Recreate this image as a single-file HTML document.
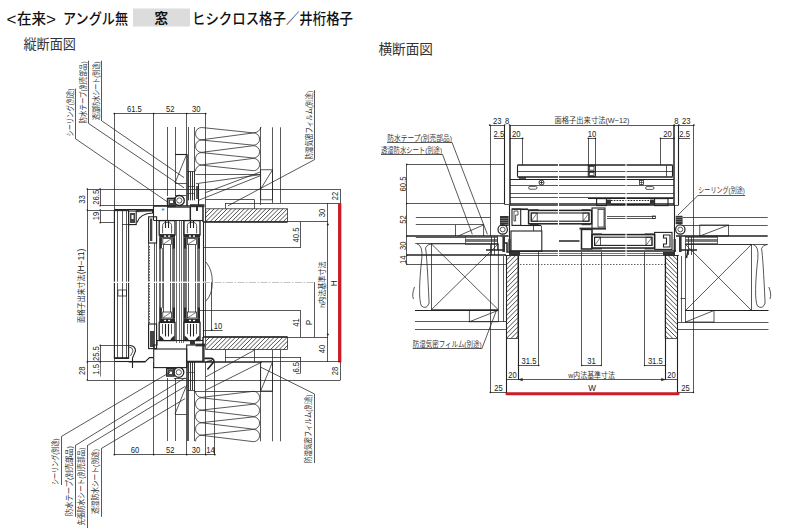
<!DOCTYPE html>
<html lang="ja">
<head>
<meta charset="utf-8">
<title>在来 アングル無 窓 ヒシクロス格子／井桁格子 納まり図</title>
<style>
html,body{margin:0;padding:0;background:#fff;}
body{width:800px;height:531px;overflow:hidden;font-family:"Liberation Sans","Noto Sans CJK JP",sans-serif;}
svg{display:block;}
svg text{font-family:"Liberation Sans","Noto Sans CJK JP",sans-serif;stroke:none;}
</style>
</head>
<body>
<svg width="800" height="531" viewBox="0 0 800 531" stroke="#222" fill="none" stroke-linecap="butt">
<rect x="0" y="0" width="800" height="531" fill="#fff" stroke="none"/>
<rect x="133" y="8.5" width="57" height="18" stroke="none" fill="#dcdcdc"/>
<text x="6.5" y="24.6" font-size="17" font-weight="500" fill="#111">&lt;</text>
<text x="17" y="24.2" font-size="14.8" textLength="29" lengthAdjust="spacingAndGlyphs" font-weight="500" fill="#111">在来</text>
<text x="46" y="24.6" font-size="17" font-weight="500" fill="#111">&gt;</text>
<text x="63" y="24.2" font-size="14.8" textLength="65" lengthAdjust="spacingAndGlyphs" font-weight="500" fill="#111">アングル無</text>
<text x="161.3" y="22.8" font-size="13.6" text-anchor="middle" font-weight="700" fill="#111">窓</text>
<text x="192" y="24.2" font-size="14.8" textLength="161" lengthAdjust="spacingAndGlyphs" font-weight="500" fill="#111">ヒシクロス格子／井桁格子</text>
<text x="23.5" y="48.6" font-size="13.6" textLength="52.5" lengthAdjust="spacingAndGlyphs" fill="#333">縦断面図</text>
<text x="378.5" y="53.6" font-size="13.6" textLength="54.5" lengthAdjust="spacingAndGlyphs" fill="#333">横断面図</text>
<line x1="114.4" y1="113.5" x2="205.6" y2="113.5" stroke-width="0.75"/>
<circle cx="114.4" cy="113.6" r="0.9" fill="#222" stroke="none"/>
<circle cx="153.7" cy="113.6" r="0.9" fill="#222" stroke="none"/>
<circle cx="186.7" cy="113.6" r="0.9" fill="#222" stroke="none"/>
<circle cx="205.6" cy="113.6" r="0.9" fill="#222" stroke="none"/>
<text x="134.4" y="112.1" font-size="8.2" text-anchor="middle" textLength="14.84" lengthAdjust="spacingAndGlyphs" fill="#222">61.5</text>
<text x="170.3" y="112.1" font-size="8.2" text-anchor="middle" textLength="8.48" lengthAdjust="spacingAndGlyphs" fill="#222">52</text>
<text x="196.2" y="112.1" font-size="8.2" text-anchor="middle" textLength="8.48" lengthAdjust="spacingAndGlyphs" fill="#222">30</text>
<line x1="114.5" y1="113.6" x2="114.5" y2="454.6" stroke-width="0.75"/>
<line x1="153.5" y1="113.6" x2="153.5" y2="207" stroke-width="0.75"/>
<line x1="153.5" y1="362" x2="153.5" y2="454.6" stroke-width="0.75"/>
<line x1="186.5" y1="113.6" x2="186.5" y2="154.3" stroke-width="0.75"/>
<line x1="187" y1="154.3" x2="187" y2="206" stroke-width="1.5"/>
<line x1="188.5" y1="127" x2="188.5" y2="172" stroke-width="0.75"/>
<line x1="205.5" y1="113.6" x2="205.5" y2="209" stroke-width="0.75"/>
<line x1="167.5" y1="127" x2="167.5" y2="196" stroke-width="0.75"/>
<line x1="175.5" y1="127" x2="175.5" y2="196" stroke-width="0.75"/>
<line x1="194.5" y1="127" x2="194.5" y2="171" stroke-width="0.75"/>
<line x1="175" y1="154.5" x2="186.7" y2="154.5" stroke-width="1.1"/>
<line x1="186.7" y1="154.3" x2="175" y2="183" stroke-width="0.75"/>
<line x1="175" y1="183.5" x2="186.7" y2="183.5" stroke-width="0.75"/>
<path d="M253.5 132.9 L201.6 127.5 A6.1 6.15 0 0 0 201.6 139.8 L253.5 132.9 A6.1 6.15 0 0 1 253.5 145.2 L201.6 140.05 A6.1 6.15 0 0 0 201.6 152.35 L253.5 145.7 A6.1 6.15 0 0 1 253.5 158 L201.6 152.6 A6.1 6.15 0 0 0 201.6 164.9 L253.5 158.4 A6.1 6.15 0 0 1 253.5 170.7 L201.6 165.15 A6.1 6.15 0 0 0 195.5 171.3" stroke-width="0.75" fill="none"/>
<path d="M253.5 132.9 Q259.5 132.4 261 126.9" stroke-width="0.75" fill="none"/>
<line x1="195.5" y1="174.5" x2="260.7" y2="174.5" stroke-width="0.75"/>
<line x1="194.5" y1="171" x2="194.5" y2="174.3" stroke-width="0.75"/>
<line x1="260.5" y1="127.3" x2="260.5" y2="205" stroke-width="0.75"/>
<line x1="272.5" y1="127.3" x2="272.5" y2="203" stroke-width="0.75"/>
<line x1="280.5" y1="127.3" x2="280.5" y2="203" stroke-width="0.75"/>
<rect x="260.7" y="169.8" width="11.8" height="30" stroke-width="0.75" fill="none"/>
<line x1="272.5" y1="169.8" x2="260.7" y2="189" stroke-width="0.75"/>
<line x1="188.5" y1="171.2" x2="188.5" y2="200.3" stroke-width="0.9"/>
<line x1="190.5" y1="171.2" x2="190.5" y2="200.3" stroke-width="0.9"/>
<line x1="192.5" y1="171.2" x2="192.5" y2="200.3" stroke-width="0.9"/>
<line x1="194.5" y1="171.2" x2="194.5" y2="200.3" stroke-width="0.9"/>
<line x1="187.5" y1="171.5" x2="195" y2="171.5" stroke-width="0.75"/>
<line x1="187.5" y1="186.5" x2="195" y2="186.5" stroke-width="0.6"/>
<line x1="187.5" y1="193.5" x2="195" y2="193.5" stroke-width="0.6"/>
<line x1="198.5" y1="184" x2="198.5" y2="206" stroke-width="1.1"/>
<line x1="197" y1="186" x2="197" y2="199" stroke-width="1.5"/>
<line x1="75.5" y1="88.6" x2="75.5" y2="138.6" stroke-width="0.75"/>
<line x1="75.3" y1="138.6" x2="168" y2="202.3" stroke-width="0.75"/>
<line x1="88.5" y1="60.7" x2="88.5" y2="123.8" stroke-width="0.75"/>
<line x1="89" y1="123.8" x2="184" y2="187.8" stroke-width="0.75"/>
<line x1="101.5" y1="60.7" x2="101.5" y2="121" stroke-width="0.75"/>
<line x1="102" y1="121" x2="184" y2="177.6" stroke-width="0.75"/>
<text x="72.6" y="136.6" font-size="8.1" transform="rotate(-90 72.6 136.6)" textLength="48" lengthAdjust="spacingAndGlyphs" fill="#333">シーリング(別途)</text>
<text x="85.8" y="123.4" font-size="8.1" transform="rotate(-90 85.8 123.4)" textLength="62" lengthAdjust="spacingAndGlyphs" fill="#333">防水テープ(別売部品)</text>
<text x="99" y="120" font-size="8.1" transform="rotate(-90 99 120)" textLength="58.5" lengthAdjust="spacingAndGlyphs" fill="#333">透湿防水シート(別途)</text>
<line x1="314.5" y1="90.2" x2="314.5" y2="159.6" stroke-width="0.75"/>
<line x1="314.6" y1="159.6" x2="228" y2="205.8" stroke-width="0.75"/>
<text x="311.8" y="159.4" font-size="8.1" transform="rotate(-90 311.8 159.4)" textLength="68.5" lengthAdjust="spacingAndGlyphs" fill="#333">防湿気密フィルム(別途)</text>
<line x1="196" y1="183.7" x2="260.7" y2="174.6" stroke-width="0.75"/>
<line x1="205.6" y1="192.6" x2="260.7" y2="171.8" stroke-width="0.75"/>
<line x1="198" y1="200.5" x2="260.7" y2="175.6" stroke-width="0.75"/>
<line x1="87.5" y1="189.1" x2="87.5" y2="380" stroke-width="0.75"/>
<line x1="100.5" y1="189.1" x2="100.5" y2="205.8" stroke-width="0.75"/>
<line x1="100.5" y1="210" x2="100.5" y2="222.7" stroke-width="0.75"/>
<line x1="87.3" y1="189.5" x2="340.4" y2="189.5" stroke-width="0.75"/>
<line x1="100.2" y1="205.5" x2="167.5" y2="205.5" stroke-width="0.75"/>
<line x1="87.3" y1="210.5" x2="114.4" y2="210.5" stroke-width="0.75"/>
<line x1="100.2" y1="222.5" x2="114.4" y2="222.5" stroke-width="0.75"/>
<circle cx="87.3" cy="189.1" r="0.8" fill="#222" stroke="none"/>
<circle cx="87.3" cy="210" r="0.8" fill="#222" stroke="none"/>
<circle cx="100.2" cy="189.1" r="0.8" fill="#222" stroke="none"/>
<circle cx="100.2" cy="205.8" r="0.8" fill="#222" stroke="none"/>
<circle cx="100.2" cy="210" r="0.8" fill="#222" stroke="none"/>
<circle cx="100.2" cy="222.7" r="0.8" fill="#222" stroke="none"/>
<text x="85" y="199.6" font-size="8.2" text-anchor="middle" transform="rotate(-90 85 199.6)" textLength="8.48" lengthAdjust="spacingAndGlyphs" fill="#222">33</text>
<text x="98.6" y="197.2" font-size="8.2" text-anchor="middle" transform="rotate(-90 98.6 197.2)" textLength="14.84" lengthAdjust="spacingAndGlyphs" fill="#222">26.5</text>
<text x="98.6" y="216" font-size="8.2" text-anchor="middle" transform="rotate(-90 98.6 216)" textLength="8.48" lengthAdjust="spacingAndGlyphs" fill="#222">19</text>
<text x="84.2" y="323" font-size="8.1" transform="rotate(-90 84.2 323)" textLength="48.5" lengthAdjust="spacingAndGlyphs" fill="#333">面格子出来寸法</text>
<text x="84.2" y="274.3" font-size="8.2" transform="rotate(-90 84.2 274.3)" textLength="25.6" lengthAdjust="spacingAndGlyphs" fill="#222">(H−11)</text>
<line x1="100.5" y1="345.3" x2="100.5" y2="361.9" stroke-width="0.75"/>
<line x1="100.5" y1="361.9" x2="100.5" y2="376.5" stroke-width="0.6"/>
<line x1="100.2" y1="345.5" x2="130" y2="345.5" stroke-width="0.75"/>
<line x1="87.3" y1="361.5" x2="114.4" y2="361.5" stroke-width="0.75"/>
<line x1="87.3" y1="380.5" x2="340.4" y2="380.5" stroke-width="0.75"/>
<circle cx="87.3" cy="361.9" r="0.8" fill="#222" stroke="none"/>
<circle cx="87.3" cy="380" r="0.8" fill="#222" stroke="none"/>
<circle cx="100.2" cy="345.3" r="0.8" fill="#222" stroke="none"/>
<circle cx="100.2" cy="361.9" r="0.8" fill="#222" stroke="none"/>
<text x="98.6" y="353.6" font-size="8.2" text-anchor="middle" transform="rotate(-90 98.6 353.6)" textLength="14.84" lengthAdjust="spacingAndGlyphs" fill="#222">25.5</text>
<text x="85" y="370.8" font-size="8.2" text-anchor="middle" transform="rotate(-90 85 370.8)" textLength="8.48" lengthAdjust="spacingAndGlyphs" fill="#222">28</text>
<text x="98.6" y="369.4" font-size="8.2" text-anchor="middle" transform="rotate(-90 98.6 369.4)" textLength="10.6" lengthAdjust="spacingAndGlyphs" fill="#222">1.5</text>
<rect x="114.4" y="210.6" width="14.2" height="147.7" stroke-width="1.1" fill="none"/>
<line x1="117.5" y1="211" x2="117.5" y2="358" stroke-width="0.75"/>
<line x1="122.5" y1="211" x2="122.5" y2="358" stroke-width="0.75"/>
<line x1="126.5" y1="211" x2="126.5" y2="358" stroke-width="0.75"/>
<line x1="114.4" y1="358" x2="128.6" y2="358" stroke-width="1.5"/>
<line x1="114.4" y1="361.5" x2="145" y2="361.5" stroke-width="1.1"/>
<rect x="117.9" y="290" width="8.5" height="6" stroke-width="0.75" fill="none"/>
<line x1="122.5" y1="290" x2="122.5" y2="296" stroke-width="0.75"/>
<line x1="114.4" y1="209.5" x2="153" y2="209.5" stroke-width="1.1"/>
<rect x="128.6" y="211" width="7.6" height="13.6" stroke-width="1.1" fill="none"/>
<rect x="130" y="213" width="5" height="10" stroke="none" fill="#444"/>
<rect x="131.5" y="215" width="2" height="4" stroke="none" fill="#fff"/>
<path d="M152.6 210.5 L152.6 213 Q140 213.5 137 222.5" stroke-width="1.1" fill="none"/>
<path d="M136.2 210 L153 209.4 L153 211.2 L136.2 212 Z" stroke-width="0.3" fill="#333"/>
<line x1="122" y1="224.5" x2="136.2" y2="224.5" stroke-width="0.75"/>
<path d="M130 345.5 Q135.5 346 135.5 351 L132.5 358 L132.5 368" stroke-width="1.1" fill="none"/>
<path d="M129 347 Q133 347.5 133 351 L130.5 356" stroke-width="0.75" fill="none"/>
<path d="M128.6 362 L145 362 L149.5 357.6 L153.7 357.6" stroke-width="1.1" fill="none"/>
<circle cx="179.3" cy="200.5" r="5" stroke-width="1.3" fill="none"/>
<circle cx="179.3" cy="200.5" r="2.6" stroke-width="0.75" fill="none"/>
<rect x="167.6" y="198.4" width="7.4" height="7.6" stroke-width="1.5" fill="none"/>
<rect x="168.6" y="199.4" width="5.7" height="6" stroke="none" fill="#444"/>
<rect x="170" y="200.6" width="3" height="2.4" stroke="none" fill="#fff"/>
<line x1="175" y1="195.5" x2="186.6" y2="195.5" stroke-width="0.75"/>
<line x1="153.7" y1="206" x2="190" y2="206" stroke-width="1.5"/>
<line x1="153.5" y1="206.3" x2="153.5" y2="220.5" stroke-width="1.1"/>
<rect x="167.5" y="207.3" width="22.5" height="13.2" stroke-width="0.75" fill="none"/>
<line x1="153.7" y1="220.5" x2="203" y2="220.5" stroke-width="1.1"/>
<rect x="190" y="204.2" width="14.5" height="3" stroke="none" fill="#333"/>
<rect x="196" y="207" width="2" height="4" stroke="none" fill="#333"/>
<line x1="190.5" y1="207" x2="190.5" y2="220.5" stroke-width="1.1"/>
<line x1="203" y1="207" x2="203" y2="222" stroke-width="1.5"/>
<line x1="205.5" y1="209" x2="205.5" y2="222" stroke-width="0.75"/>
<text x="163" y="210.8" font-size="3.6" text-anchor="middle" fill="#222">H</text>
<rect x="148.6" y="216.8" width="8" height="26.2" stroke-width="1.1" fill="none"/>
<rect x="150" y="218.5" width="2.3" height="22.5" stroke="none" fill="#444"/>
<line x1="154.5" y1="243" x2="154.5" y2="348" stroke-width="0.75"/>
<line x1="156.5" y1="243" x2="156.5" y2="348" stroke-width="0.75"/>
<line x1="148.5" y1="243" x2="148.5" y2="348.6" stroke-width="0.75"/>
<line x1="149.5" y1="246" x2="149.5" y2="324" stroke-width="1" stroke="#555" stroke-dasharray="1.6 1.2"/>
<rect x="148.6" y="324" width="8" height="24.6" stroke-width="1.1" fill="none"/>
<rect x="150" y="331" width="4.5" height="16" stroke="none" fill="#444"/>
<rect x="159.2" y="220.6" width="15.8" height="14.4" stroke-width="1.3" fill="none"/>
<path d="M162.6 233.3 L162.6 225.6 Q162.6 222.3 167.1 222.3 Q171.6 222.3 171.6 225.6 L171.6 233.3" stroke-width="0.75" fill="none"/>
<line x1="165.5" y1="220.6" x2="165.5" y2="228" stroke-width="1.1"/>
<line x1="168.5" y1="220.6" x2="168.5" y2="228" stroke-width="1.1"/>
<rect x="159.2" y="234.2" width="15.8" height="3.6" stroke="none" fill="#2a2a2a"/>
<rect x="164.1" y="235.4" width="2" height="1.4" stroke="none" fill="#fff"/>
<rect x="168.1" y="235.4" width="2" height="1.4" stroke="none" fill="#fff"/>
<rect x="159.2" y="237.8" width="2.7" height="10.7" stroke="none" fill="#2a2a2a"/>
<rect x="172.3" y="237.8" width="2.7" height="10.7" stroke="none" fill="#2a2a2a"/>
<rect x="162.8" y="238.6" width="8.6" height="6" stroke-width="0.75" fill="none"/>
<line x1="163.2" y1="244.2" x2="171" y2="239" stroke-width="0.6"/>
<line x1="160" y1="248" x2="160" y2="308" stroke-width="1.3"/>
<line x1="174" y1="248" x2="174" y2="308" stroke-width="1.3"/>
<line x1="163.5" y1="244.6" x2="163.5" y2="312" stroke-width="0.75"/>
<line x1="170.5" y1="244.6" x2="170.5" y2="312" stroke-width="0.75"/>
<line x1="162.5" y1="248" x2="162.5" y2="308" stroke-width="0.6"/>
<line x1="172.5" y1="248" x2="172.5" y2="308" stroke-width="0.6"/>
<rect x="159.2" y="307.6" width="2.7" height="11.2" stroke="none" fill="#2a2a2a"/>
<rect x="172.3" y="307.6" width="2.7" height="11.2" stroke="none" fill="#2a2a2a"/>
<rect x="162.8" y="312" width="8.6" height="6" stroke-width="0.75" fill="none"/>
<line x1="163.2" y1="317.6" x2="171" y2="312.4" stroke-width="0.6"/>
<rect x="159.2" y="318.6" width="15.8" height="3.8" stroke="none" fill="#2a2a2a"/>
<rect x="164.1" y="319.8" width="2" height="1.4" stroke="none" fill="#fff"/>
<rect x="168.1" y="319.8" width="2" height="1.4" stroke="none" fill="#fff"/>
<rect x="159.2" y="322.4" width="15.8" height="18.2" stroke-width="1.3" fill="none"/>
<line x1="165.5" y1="324" x2="165.5" y2="336.5" stroke-width="1.1"/>
<line x1="168.5" y1="324" x2="168.5" y2="336.5" stroke-width="1.1"/>
<line x1="162.5" y1="324" x2="162.5" y2="334" stroke-width="0.75"/>
<line x1="171.5" y1="324" x2="171.5" y2="334" stroke-width="0.75"/>
<path d="M159.8 340 L159.8 335.8 L162.6 338 L163.6 340 Z" stroke-width="0.3" fill="#2a2a2a"/>
<path d="M174.4 340 L174.4 335.8 L171.6 338 L170.6 340 Z" stroke-width="0.3" fill="#2a2a2a"/>
<rect x="184" y="220.6" width="16" height="14.4" stroke-width="1.3" fill="none"/>
<path d="M187.4 233.3 L187.4 225.6 Q187.4 222.3 192 222.3 Q196.6 222.3 196.6 225.6 L196.6 233.3" stroke-width="0.75" fill="none"/>
<line x1="190.5" y1="220.6" x2="190.5" y2="228" stroke-width="1.1"/>
<line x1="193.5" y1="220.6" x2="193.5" y2="228" stroke-width="1.1"/>
<rect x="184" y="234.2" width="16" height="3.6" stroke="none" fill="#2a2a2a"/>
<rect x="189" y="235.4" width="2" height="1.4" stroke="none" fill="#fff"/>
<rect x="193" y="235.4" width="2" height="1.4" stroke="none" fill="#fff"/>
<rect x="184" y="237.8" width="2.7" height="10.7" stroke="none" fill="#2a2a2a"/>
<rect x="197.3" y="237.8" width="2.7" height="10.7" stroke="none" fill="#2a2a2a"/>
<rect x="187.6" y="238.6" width="8.8" height="6" stroke-width="0.75" fill="none"/>
<line x1="188" y1="244.2" x2="196" y2="239" stroke-width="0.6"/>
<line x1="185" y1="248" x2="185" y2="308" stroke-width="1.3"/>
<line x1="199" y1="248" x2="199" y2="308" stroke-width="1.3"/>
<line x1="188.5" y1="244.6" x2="188.5" y2="312" stroke-width="0.75"/>
<line x1="195.5" y1="244.6" x2="195.5" y2="312" stroke-width="0.75"/>
<line x1="186.5" y1="248" x2="186.5" y2="308" stroke-width="0.6"/>
<line x1="197.5" y1="248" x2="197.5" y2="308" stroke-width="0.6"/>
<rect x="184" y="307.6" width="2.7" height="11.2" stroke="none" fill="#2a2a2a"/>
<rect x="197.3" y="307.6" width="2.7" height="11.2" stroke="none" fill="#2a2a2a"/>
<rect x="187.6" y="312" width="8.8" height="6" stroke-width="0.75" fill="none"/>
<line x1="188" y1="317.6" x2="196" y2="312.4" stroke-width="0.6"/>
<rect x="184" y="318.6" width="16" height="3.8" stroke="none" fill="#2a2a2a"/>
<rect x="189" y="319.8" width="2" height="1.4" stroke="none" fill="#fff"/>
<rect x="193" y="319.8" width="2" height="1.4" stroke="none" fill="#fff"/>
<rect x="184" y="322.4" width="16" height="18.2" stroke-width="1.3" fill="none"/>
<line x1="190.5" y1="324" x2="190.5" y2="336.5" stroke-width="1.1"/>
<line x1="193.5" y1="324" x2="193.5" y2="336.5" stroke-width="1.1"/>
<line x1="187.5" y1="324" x2="187.5" y2="334" stroke-width="0.75"/>
<line x1="196.5" y1="324" x2="196.5" y2="334" stroke-width="0.75"/>
<path d="M184.6 340 L184.6 335.8 L187.4 338 L188.4 340 Z" stroke-width="0.3" fill="#2a2a2a"/>
<path d="M199.4 340 L199.4 335.8 L196.6 338 L195.6 340 Z" stroke-width="0.3" fill="#2a2a2a"/>
<line x1="176.5" y1="220.5" x2="176.5" y2="343" stroke-width="0.65"/>
<line x1="179.5" y1="220.5" x2="179.5" y2="343" stroke-width="0.65"/>
<line x1="181.5" y1="220.5" x2="181.5" y2="343" stroke-width="0.65"/>
<line x1="183.5" y1="220.5" x2="183.5" y2="343" stroke-width="0.65"/>
<line x1="203.5" y1="222" x2="203.5" y2="337" stroke-width="1.1"/>
<line x1="205.5" y1="222" x2="205.5" y2="337" stroke-width="0.75"/>
<rect x="113" y="281.6" width="94" height="1.3" stroke="none" fill="#fff"/>
<path d="M206 262 Q212.5 270 212.3 282 Q212.5 294 206 301" stroke-width="0.75" fill="none"/>
<line x1="203" y1="282.5" x2="314" y2="282.5" stroke-width="0.6" stroke="#9a9a9a" stroke-dasharray="7 1.5 1.5 1.5"/>
<rect x="205.7" y="208.8" width="81.8" height="13" stroke-width="0.75" fill="none"/>
<path d="M210 208.8L205.7 213.1M214.3 208.8L205.7 217.4M218.6 208.8L205.7 221.7M222.9 208.8L209.9 221.8M227.2 208.8L214.2 221.8M231.5 208.8L218.5 221.8M235.8 208.8L222.8 221.8M240.1 208.8L227.1 221.8M244.4 208.8L231.4 221.8M248.7 208.8L235.7 221.8M253 208.8L240 221.8M257.3 208.8L244.3 221.8M261.6 208.8L248.6 221.8M265.9 208.8L252.9 221.8M270.2 208.8L257.2 221.8M274.5 208.8L261.5 221.8M278.8 208.8L265.8 221.8M283.1 208.8L270.1 221.8M287.4 208.8L274.4 221.8M287.5 213L278.7 221.8M287.5 217.3L283 221.8M287.5 221.6L287.3 221.8" stroke-width="0.8" fill="none"/>
<line x1="203" y1="222" x2="287.5" y2="222" stroke-width="1.5"/>
<line x1="287.5" y1="221.5" x2="328" y2="221.5" stroke-width="0.75"/>
<rect x="205.7" y="337" width="81.8" height="12.6" stroke-width="0.75" fill="none"/>
<path d="M210 337L205.7 341.3M214.3 337L205.7 345.6M218.6 337L206 349.6M222.9 337L210.3 349.6M227.2 337L214.6 349.6M231.5 337L218.9 349.6M235.8 337L223.2 349.6M240.1 337L227.5 349.6M244.4 337L231.8 349.6M248.7 337L236.1 349.6M253 337L240.4 349.6M257.3 337L244.7 349.6M261.6 337L249 349.6M265.9 337L253.3 349.6M270.2 337L257.6 349.6M274.5 337L261.9 349.6M278.8 337L266.2 349.6M283.1 337L270.5 349.6M287.4 337L274.8 349.6M287.5 341.2L279.1 349.6M287.5 345.5L283.4 349.6" stroke-width="0.8" fill="none"/>
<line x1="203" y1="337" x2="287.5" y2="337" stroke-width="1.5"/>
<line x1="287.5" y1="337.5" x2="328" y2="337.5" stroke-width="0.75"/>
<line x1="205.6" y1="199.5" x2="254.6" y2="199.5" stroke-width="0.75"/>
<line x1="225.4" y1="203.5" x2="340" y2="203.5" stroke-width="0.75"/>
<line x1="225.5" y1="203" x2="225.5" y2="208.8" stroke-width="0.75"/>
<line x1="254.5" y1="199.8" x2="254.5" y2="208.8" stroke-width="0.75"/>
<line x1="225.4" y1="357.5" x2="301" y2="357.5" stroke-width="0.75"/>
<line x1="225.5" y1="349.6" x2="225.5" y2="362" stroke-width="0.75"/>
<line x1="254.5" y1="349.6" x2="254.5" y2="362" stroke-width="0.75"/>
<line x1="340.5" y1="189.1" x2="340.5" y2="203" stroke-width="0.75"/>
<line x1="340.5" y1="362" x2="340.5" y2="380" stroke-width="0.75"/>
<line x1="339.7" y1="203" x2="339.7" y2="362.4" stroke="#cc1c26" stroke-width="3.3"/>
<text x="338.4" y="196" font-size="8.2" text-anchor="middle" transform="rotate(-90 338.4 196)" textLength="8.48" lengthAdjust="spacingAndGlyphs" fill="#222">22</text>
<text x="338.4" y="371" font-size="8.2" text-anchor="middle" transform="rotate(-90 338.4 371)" textLength="8.48" lengthAdjust="spacingAndGlyphs" fill="#222">28</text>
<line x1="327.5" y1="203" x2="327.5" y2="362" stroke-width="0.75"/>
<circle cx="327.8" cy="224.5" r="1" fill="#222" stroke="none"/>
<circle cx="327.8" cy="334.5" r="1" fill="#222" stroke="none"/>
<text x="325" y="213" font-size="8.2" text-anchor="middle" transform="rotate(-90 325 213)" textLength="8.48" lengthAdjust="spacingAndGlyphs" fill="#222">30</text>
<text x="325" y="349" font-size="8.2" text-anchor="middle" transform="rotate(-90 325 349)" textLength="8.48" lengthAdjust="spacingAndGlyphs" fill="#222">40</text>
<text x="325.2" y="284.6" font-size="8.1" text-anchor="middle" transform="rotate(-90 325.2 284.6)" textLength="46.5" lengthAdjust="spacingAndGlyphs" fill="#333">h内法基準寸法</text>
<text x="337" y="283.3" font-size="8.2" text-anchor="middle" transform="rotate(-90 337 283.3)" fill="#222">H</text>
<line x1="300.5" y1="221.8" x2="300.5" y2="247.6" stroke-width="0.75"/>
<line x1="203" y1="247.5" x2="300.8" y2="247.5" stroke-width="0.75"/>
<text x="298.6" y="235" font-size="8.2" text-anchor="middle" transform="rotate(-90 298.6 235)" textLength="14.84" lengthAdjust="spacingAndGlyphs" fill="#222">40.5</text>
<line x1="300.5" y1="310.5" x2="300.5" y2="337" stroke-width="0.75"/>
<line x1="200" y1="310.5" x2="300.8" y2="310.5" stroke-width="0.75"/>
<text x="298.6" y="322.5" font-size="8.2" text-anchor="middle" transform="rotate(-90 298.6 322.5)" textLength="8.48" lengthAdjust="spacingAndGlyphs" fill="#222">41</text>
<line x1="314.5" y1="282.2" x2="314.5" y2="337" stroke-width="0.75"/>
<text x="311.6" y="322.5" font-size="8.2" text-anchor="middle" transform="rotate(-90 311.6 322.5)" fill="#222">P</text>
<line x1="300.5" y1="357.3" x2="300.5" y2="373" stroke-width="0.75"/>
<line x1="296" y1="373.5" x2="300.8" y2="373.5" stroke-width="0.6"/>
<text x="298.6" y="367.3" font-size="8.2" text-anchor="middle" transform="rotate(-90 298.6 367.3)" textLength="10.6" lengthAdjust="spacingAndGlyphs" fill="#222">6.5</text>
<line x1="262" y1="361.5" x2="340.4" y2="361.5" stroke-width="0.75"/>
<text x="218" y="328.8" font-size="8.2" text-anchor="middle" textLength="8.48" lengthAdjust="spacingAndGlyphs" fill="#222">10</text>
<line x1="203.4" y1="330.5" x2="222.6" y2="330.5" stroke-width="0.75"/>
<line x1="211.5" y1="282.2" x2="211.5" y2="330.2" stroke-width="0.75"/>
<circle cx="211.8" cy="330.2" r="0.9" fill="#222" stroke="none"/>
<line x1="157" y1="340.5" x2="203" y2="340.5" stroke-width="1.1"/>
<rect x="153.7" y="349" width="33" height="18.6" stroke-width="1.1" fill="none"/>
<path d="M157 340.6 L157 345 L153.7 345 L153.7 349" stroke-width="1.1" fill="none"/>
<rect x="186.7" y="345" width="17.3" height="16.3" stroke-width="1.1" fill="none"/>
<rect x="195.5" y="343.6" width="9.5" height="2.8" stroke="none" fill="#333"/>
<rect x="190" y="340.6" width="5" height="4.2" stroke="none" fill="#333"/>
<line x1="203" y1="337" x2="203" y2="362" stroke-width="1.5"/>
<path d="M204.3 358.4 L211 358.4 Q214.6 359.2 213.8 361.8 L207.4 369.4" stroke-width="1.6" fill="none"/>
<path d="M206.5 361.6 L212 360.6" stroke-width="1.2" fill="none"/>
<circle cx="178.8" cy="372.3" r="5" stroke-width="1.3" fill="none"/>
<circle cx="178.8" cy="372.3" r="2.6" stroke-width="0.75" fill="none"/>
<rect x="166.8" y="368.2" width="7.2" height="7.8" stroke-width="1.5" fill="none"/>
<rect x="167.8" y="369.2" width="5.6" height="6.2" stroke="none" fill="#444"/>
<rect x="169.2" y="371.6" width="2.8" height="2.4" stroke="none" fill="#fff"/>
<line x1="174" y1="378.5" x2="186.6" y2="378.5" stroke-width="0.75"/>
<line x1="188.5" y1="362" x2="188.5" y2="390" stroke-width="0.9"/>
<line x1="190.5" y1="362" x2="190.5" y2="390" stroke-width="0.9"/>
<line x1="192.5" y1="362" x2="192.5" y2="390" stroke-width="0.9"/>
<line x1="194.5" y1="362" x2="194.5" y2="390" stroke-width="0.9"/>
<line x1="187.5" y1="390.5" x2="195" y2="390.5" stroke-width="0.75"/>
<line x1="187.5" y1="372.5" x2="195" y2="372.5" stroke-width="0.6"/>
<line x1="187.5" y1="380.5" x2="195" y2="380.5" stroke-width="0.6"/>
<line x1="186.7" y1="362" x2="262" y2="362" stroke-width="1.5"/>
<line x1="187" y1="362" x2="187" y2="441" stroke-width="1.5"/>
<line x1="188.5" y1="390" x2="188.5" y2="441" stroke-width="0.75"/>
<line x1="186.5" y1="441" x2="186.5" y2="454.6" stroke-width="0.75"/>
<line x1="167.5" y1="378" x2="167.5" y2="441" stroke-width="0.75"/>
<line x1="175.5" y1="378" x2="175.5" y2="441" stroke-width="0.75"/>
<line x1="194.5" y1="390" x2="194.5" y2="441" stroke-width="0.75"/>
<line x1="186.7" y1="385" x2="175" y2="414" stroke-width="0.75"/>
<line x1="175" y1="414.5" x2="186.7" y2="414.5" stroke-width="0.75"/>
<line x1="205.5" y1="362" x2="205.5" y2="454.6" stroke-width="0.75"/>
<line x1="214.5" y1="362" x2="214.5" y2="454.6" stroke-width="0.75"/>
<line x1="194.2" y1="391.5" x2="272.5" y2="391.5" stroke-width="0.75"/>
<path d="M195.5 391.05 A6.1 6.15 0 0 0 201.6 397.4 L253.5 391.3 A6.1 6.15 0 0 1 253.5 403.6 L201.6 397.8 A6.1 6.15 0 0 0 201.6 410.1 L253.5 404.2 A6.1 6.15 0 0 1 253.5 416.5 L201.6 410.3 A6.1 6.15 0 0 0 201.6 422.6 L253.5 416.9 A6.1 6.15 0 0 1 253.5 429.2 L201.6 422.8 A6.1 6.15 0 0 0 201.6 435.1 L253.5 429.4 A6.1 6.15 0 0 1 253.5 441.7 L201.6 435.3 A6.1 6.15 0 0 0 195.5 441.45" stroke-width="0.75" fill="none"/>
<line x1="260.5" y1="362" x2="260.5" y2="441.3" stroke-width="0.75"/>
<line x1="272.5" y1="350" x2="272.5" y2="441.3" stroke-width="0.75"/>
<line x1="280.5" y1="350" x2="280.5" y2="441.3" stroke-width="0.75"/>
<rect x="260.7" y="362" width="11.8" height="29" stroke-width="0.75" fill="none"/>
<line x1="272.5" y1="362" x2="260.7" y2="391" stroke-width="0.75"/>
<line x1="61.5" y1="436.3" x2="61.5" y2="485" stroke-width="0.75"/>
<line x1="61.7" y1="436.3" x2="170" y2="372.2" stroke-width="0.75"/>
<line x1="75.5" y1="445.4" x2="75.5" y2="516.8" stroke-width="0.75"/>
<line x1="75.5" y1="445.4" x2="185.1" y2="377.9" stroke-width="0.75"/>
<line x1="87.5" y1="445.7" x2="87.5" y2="528" stroke-width="0.75"/>
<line x1="87.1" y1="445.7" x2="185.1" y2="386.4" stroke-width="0.75"/>
<line x1="101.5" y1="448.6" x2="101.5" y2="516.8" stroke-width="0.75"/>
<line x1="101.2" y1="448.6" x2="185.1" y2="398.6" stroke-width="0.75"/>
<text x="57.8" y="485" font-size="8.1" transform="rotate(-90 57.8 485)" textLength="46.5" lengthAdjust="spacingAndGlyphs" fill="#333">シーリング(別途)</text>
<text x="71.6" y="516" font-size="8.1" transform="rotate(-90 71.6 516)" textLength="70" lengthAdjust="spacingAndGlyphs" fill="#333">防水テープ(別売部品)</text>
<text x="84" y="525.5" font-size="8.1" transform="rotate(-90 84 525.5)" textLength="78" lengthAdjust="spacingAndGlyphs" fill="#333">先張防水シート(別売部品)</text>
<text x="98" y="514" font-size="8.1" transform="rotate(-90 98 514)" textLength="65" lengthAdjust="spacingAndGlyphs" fill="#333">透湿防水シート(別途)</text>
<line x1="261" y1="367.3" x2="314" y2="393.7" stroke-width="0.75"/>
<line x1="314.5" y1="393.7" x2="314.5" y2="463" stroke-width="0.75"/>
<text x="311" y="463" font-size="8.1" transform="rotate(-90 311 463)" textLength="68.5" lengthAdjust="spacingAndGlyphs" fill="#333">防湿気密フィルム(別途)</text>
<line x1="206" y1="376.8" x2="254.7" y2="350" stroke-width="0.75"/>
<line x1="206" y1="390" x2="260.7" y2="362.6" stroke-width="0.75"/>
<line x1="114.4" y1="454.5" x2="215" y2="454.5" stroke-width="0.75"/>
<circle cx="114.4" cy="454.6" r="0.9" fill="#222" stroke="none"/>
<circle cx="153.7" cy="454.6" r="0.9" fill="#222" stroke="none"/>
<circle cx="186.7" cy="454.6" r="0.9" fill="#222" stroke="none"/>
<circle cx="205.7" cy="454.6" r="0.9" fill="#222" stroke="none"/>
<circle cx="214.8" cy="454.6" r="0.9" fill="#222" stroke="none"/>
<line x1="214.5" y1="448" x2="214.5" y2="454.6" stroke-width="0.75"/>
<text x="134.9" y="452.6" font-size="8.2" text-anchor="middle" textLength="8.48" lengthAdjust="spacingAndGlyphs" fill="#222">60</text>
<text x="170.3" y="452.6" font-size="8.2" text-anchor="middle" textLength="8.48" lengthAdjust="spacingAndGlyphs" fill="#222">52</text>
<text x="196" y="452.6" font-size="8.2" text-anchor="middle" textLength="8.48" lengthAdjust="spacingAndGlyphs" fill="#222">30</text>
<text x="210.4" y="452.6" font-size="8.2" text-anchor="middle" textLength="8.48" lengthAdjust="spacingAndGlyphs" fill="#222">14</text>
<line x1="489.8" y1="125.5" x2="693.9" y2="125.5" stroke-width="0.75"/>
<circle cx="489.8" cy="125.1" r="0.9" fill="#222" stroke="none"/>
<circle cx="504.9" cy="125.1" r="0.9" fill="#222" stroke="none"/>
<circle cx="509.4" cy="125.1" r="0.9" fill="#222" stroke="none"/>
<circle cx="674.2" cy="125.1" r="0.9" fill="#222" stroke="none"/>
<circle cx="678.8" cy="125.1" r="0.9" fill="#222" stroke="none"/>
<circle cx="693.9" cy="125.1" r="0.9" fill="#222" stroke="none"/>
<text x="497.3" y="123.6" font-size="8.2" text-anchor="middle" textLength="8.48" lengthAdjust="spacingAndGlyphs" fill="#222">23</text>
<text x="507.2" y="123.6" font-size="8.2" text-anchor="middle" textLength="4.24" lengthAdjust="spacingAndGlyphs" fill="#222">8</text>
<text x="676.4" y="123.6" font-size="8.2" text-anchor="middle" textLength="4.24" lengthAdjust="spacingAndGlyphs" fill="#222">8</text>
<text x="686.2" y="123.6" font-size="8.2" text-anchor="middle" textLength="8.48" lengthAdjust="spacingAndGlyphs" fill="#222">23</text>
<text x="592" y="123.2" font-size="7.9" text-anchor="middle" textLength="75" lengthAdjust="spacingAndGlyphs" fill="#333">面格子出来寸法(W−12)</text>
<text x="498.9" y="137" font-size="8.2" text-anchor="middle" textLength="10.6" lengthAdjust="spacingAndGlyphs" fill="#222">2.5</text>
<line x1="494" y1="138.5" x2="504.9" y2="138.5" stroke-width="0.75"/>
<text x="516.2" y="137" font-size="8.2" text-anchor="middle" textLength="8.48" lengthAdjust="spacingAndGlyphs" fill="#222">20</text>
<line x1="509.4" y1="138.5" x2="522.7" y2="138.5" stroke-width="0.75"/>
<line x1="522.5" y1="138.4" x2="522.5" y2="165.3" stroke-width="0.75"/>
<text x="592" y="137" font-size="8.2" text-anchor="middle" textLength="8.48" lengthAdjust="spacingAndGlyphs" fill="#222">10</text>
<line x1="588.3" y1="138.5" x2="595.4" y2="138.5" stroke-width="0.75"/>
<line x1="588.5" y1="138.4" x2="588.5" y2="165.3" stroke-width="0.75"/>
<line x1="595.5" y1="138.4" x2="595.5" y2="165.3" stroke-width="0.75"/>
<text x="667.6" y="137" font-size="8.2" text-anchor="middle" textLength="8.48" lengthAdjust="spacingAndGlyphs" fill="#222">20</text>
<line x1="660.5" y1="138.5" x2="674.2" y2="138.5" stroke-width="0.75"/>
<line x1="660.5" y1="138.4" x2="660.5" y2="165.3" stroke-width="0.75"/>
<text x="684.6" y="137" font-size="8.2" text-anchor="middle" textLength="10.6" lengthAdjust="spacingAndGlyphs" fill="#222">2.5</text>
<line x1="678.8" y1="138.5" x2="690" y2="138.5" stroke-width="0.75"/>
<circle cx="504.9" cy="138.4" r="0.8" fill="#222" stroke="none"/>
<circle cx="509.4" cy="138.4" r="0.8" fill="#222" stroke="none"/>
<circle cx="522.7" cy="138.4" r="0.8" fill="#222" stroke="none"/>
<circle cx="588.3" cy="138.4" r="0.8" fill="#222" stroke="none"/>
<circle cx="595.4" cy="138.4" r="0.8" fill="#222" stroke="none"/>
<circle cx="660.5" cy="138.4" r="0.8" fill="#222" stroke="none"/>
<circle cx="674.2" cy="138.4" r="0.8" fill="#222" stroke="none"/>
<circle cx="678.8" cy="138.4" r="0.8" fill="#222" stroke="none"/>
<line x1="490.5" y1="125.1" x2="490.5" y2="392.4" stroke-width="0.75"/>
<line x1="693.5" y1="125.1" x2="693.5" y2="392.4" stroke-width="0.75"/>
<line x1="406.5" y1="164.4" x2="406.5" y2="264.4" stroke-width="0.75"/>
<line x1="406.8" y1="164.5" x2="509.4" y2="164.5" stroke-width="0.75"/>
<line x1="406.8" y1="203.5" x2="510" y2="203.5" stroke-width="0.75"/>
<line x1="406.8" y1="236" x2="508.5" y2="236" stroke-width="1.5"/>
<line x1="406.8" y1="255" x2="506" y2="255" stroke-width="1.5"/>
<line x1="406.8" y1="264.5" x2="506" y2="264.5" stroke-width="0.75"/>
<circle cx="406.8" cy="164.4" r="0.8" fill="#222" stroke="none"/>
<circle cx="406.8" cy="203.6" r="0.8" fill="#222" stroke="none"/>
<circle cx="406.8" cy="236.2" r="0.8" fill="#222" stroke="none"/>
<circle cx="406.8" cy="255.4" r="0.8" fill="#222" stroke="none"/>
<circle cx="406.8" cy="264.2" r="0.8" fill="#222" stroke="none"/>
<text x="405.6" y="184" font-size="8.2" text-anchor="middle" transform="rotate(-90 405.6 184)" textLength="14.84" lengthAdjust="spacingAndGlyphs" fill="#222">60.5</text>
<text x="405.6" y="219.6" font-size="8.2" text-anchor="middle" transform="rotate(-90 405.6 219.6)" textLength="8.48" lengthAdjust="spacingAndGlyphs" fill="#222">52</text>
<text x="405.6" y="245.8" font-size="8.2" text-anchor="middle" transform="rotate(-90 405.6 245.8)" textLength="8.48" lengthAdjust="spacingAndGlyphs" fill="#222">30</text>
<text x="405.6" y="259.8" font-size="8.2" text-anchor="middle" transform="rotate(-90 405.6 259.8)" textLength="8.48" lengthAdjust="spacingAndGlyphs" fill="#222">14</text>
<rect x="504.9" y="125.1" width="4.9" height="79.5" stroke="none" fill="#fff"/>
<line x1="504.5" y1="125.1" x2="504.5" y2="204.6" stroke-width="1.1"/>
<line x1="510" y1="125.1" x2="510" y2="204.6" stroke-width="1.5"/>
<line x1="674" y1="125.1" x2="674" y2="205" stroke-width="1.5"/>
<line x1="678.5" y1="125.1" x2="678.5" y2="205" stroke-width="1.1"/>
<line x1="504.9" y1="204.5" x2="510" y2="204.5" stroke-width="0.75"/>
<line x1="674" y1="205.5" x2="678.8" y2="205.5" stroke-width="0.75"/>
<line x1="517.4" y1="165" x2="672.7" y2="165" stroke-width="1.5"/>
<line x1="517.4" y1="171.5" x2="672.7" y2="171.5" stroke-width="0.75"/>
<line x1="517.4" y1="177" x2="672.7" y2="177" stroke-width="1.5"/>
<line x1="517.5" y1="165.3" x2="517.5" y2="176.6" stroke-width="1.1"/>
<line x1="672.5" y1="165.3" x2="672.5" y2="176.6" stroke-width="1.1"/>
<line x1="666.5" y1="165.3" x2="666.5" y2="176.6" stroke-width="0.75"/>
<line x1="510" y1="179.5" x2="674" y2="179.5" stroke-width="1.1"/>
<line x1="510" y1="185.5" x2="674" y2="185.5" stroke-width="0.75"/>
<line x1="510" y1="193.5" x2="674" y2="193.5" stroke-width="0.75"/>
<line x1="510" y1="197.5" x2="674" y2="197.5" stroke-width="0.75"/>
<line x1="510" y1="204" x2="674" y2="204" stroke-width="1.5"/>
<line x1="510" y1="205.5" x2="674" y2="205.5" stroke-width="0.75"/>
<rect x="588.3" y="165.3" width="7.1" height="11.3" stroke-width="1.1" fill="none"/>
<line x1="588.3" y1="171.5" x2="595.4" y2="171.5" stroke-width="1.1"/>
<rect x="589.6" y="166.6" width="4.4" height="3.6" stroke-width="0.75" fill="none"/>
<rect x="589.6" y="172.4" width="4.4" height="3.2" stroke-width="0.75" fill="none"/>
<circle cx="541.5" cy="182.6" r="2.5" stroke-width="0.9" fill="none"/>
<line x1="539.6" y1="182.5" x2="543.4" y2="182.5" stroke-width="0.8"/>
<line x1="541.5" y1="180.7" x2="541.5" y2="184.5" stroke-width="0.8"/>
<path d="M530 186.4 h5.6 a1.4 1.4 0 0 1 0 2.8 h-5.6 a1.4 1.4 0 0 1 0 -2.8 Z" stroke-width="0.75" fill="none"/>
<rect x="639.4" y="180.6" width="4.2" height="4" stroke-width="0.75" fill="none"/>
<line x1="639.4" y1="182.5" x2="643.6" y2="182.5" stroke-width="0.6"/>
<line x1="641.5" y1="180.6" x2="641.5" y2="184.6" stroke-width="0.6"/>
<path d="M647 186.6 h5.6 a1.4 1.4 0 0 1 0 2.8 h-5.6 a1.4 1.4 0 0 1 0 -2.8 Z" stroke-width="0.75" fill="none"/>
<line x1="519" y1="178" x2="526" y2="178" stroke-width="1.5"/>
<rect x="596.6" y="198.6" width="9.8" height="7" stroke-width="1.1" fill="none"/>
<rect x="654.6" y="198.6" width="13.4" height="7" stroke-width="1.1" fill="none"/>
<rect x="606.4" y="199.6" width="4.6" height="5" stroke="none" fill="#333"/>
<rect x="650" y="199.6" width="4.6" height="5" stroke="none" fill="#333"/>
<line x1="611" y1="200.5" x2="650" y2="200.5" stroke-width="1.1" stroke-dasharray="1.6 1.2"/>
<line x1="611" y1="204.5" x2="650" y2="204.5" stroke-width="1.1"/>
<line x1="588" y1="198.5" x2="673" y2="198.5" stroke-width="1.1"/>
<rect x="528.6" y="210.4" width="63" height="13.4" stroke-width="1.5" fill="none"/>
<rect x="531.2" y="213" width="57.8" height="8.2" stroke-width="1.1" fill="none"/>
<rect x="531.2" y="213" width="6" height="8.2" stroke-width="0.75" fill="none"/>
<line x1="531.2" y1="221.2" x2="537.2" y2="213" stroke-width="0.6"/>
<rect x="583" y="213" width="6" height="8.2" stroke-width="0.75" fill="none"/>
<line x1="583" y1="221.2" x2="589" y2="213" stroke-width="0.6"/>
<rect x="529.6" y="209.2" width="9" height="1.2" stroke="none" fill="#333"/>
<rect x="581.6" y="209.2" width="9" height="1.2" stroke="none" fill="#333"/>
<rect x="529.6" y="223.8" width="9" height="1.4" stroke="none" fill="#333"/>
<rect x="581.6" y="223.8" width="9" height="1.4" stroke="none" fill="#333"/>
<rect x="592" y="234.6" width="62.6" height="13.4" stroke-width="1.5" fill="none"/>
<rect x="594.6" y="237.2" width="57.4" height="8.2" stroke-width="1.1" fill="none"/>
<rect x="594.6" y="237.2" width="6" height="8.2" stroke-width="0.75" fill="none"/>
<line x1="594.6" y1="245.4" x2="600.6" y2="237.2" stroke-width="0.6"/>
<rect x="646" y="237.2" width="6" height="8.2" stroke-width="0.75" fill="none"/>
<line x1="646" y1="245.4" x2="652" y2="237.2" stroke-width="0.6"/>
<rect x="593" y="233.4" width="9" height="1.2" stroke="none" fill="#333"/>
<rect x="644.6" y="233.4" width="9" height="1.2" stroke="none" fill="#333"/>
<rect x="593" y="248" width="9" height="1.4" stroke="none" fill="#333"/>
<rect x="644.6" y="248" width="9" height="1.4" stroke="none" fill="#333"/>
<rect x="512" y="209" width="8.7" height="16.4" stroke-width="1.1" fill="none"/>
<path d="M514 211 h4 v4 h-2.4 v6 h-1.6 Z" stroke-width="0.75" fill="none"/>
<rect x="512" y="208.4" width="16" height="1.6" stroke="none" fill="#333"/>
<line x1="520.7" y1="209.5" x2="528.6" y2="209.5" stroke-width="1.1"/>
<line x1="520.7" y1="225.5" x2="541" y2="225.5" stroke-width="1.1"/>
<rect x="511" y="231" width="30.8" height="20.3" stroke-width="1.1" fill="none"/>
<line x1="533.5" y1="225.6" x2="533.5" y2="231" stroke-width="0.75"/>
<line x1="541.5" y1="225.6" x2="541.5" y2="231" stroke-width="0.75"/>
<rect x="500" y="216" width="8.6" height="10" stroke="none" fill="#333"/>
<line x1="500.5" y1="218.5" x2="508" y2="218.5" stroke-width="0.5" stroke="#aaa"/>
<line x1="500.5" y1="220.5" x2="508" y2="220.5" stroke-width="0.5" stroke="#aaa"/>
<line x1="500.5" y1="222.5" x2="508" y2="222.5" stroke-width="0.5" stroke="#aaa"/>
<line x1="500.5" y1="224.5" x2="508" y2="224.5" stroke-width="0.5" stroke="#aaa"/>
<circle cx="502.7" cy="229.5" r="4.7" stroke-width="1.2" fill="none"/>
<circle cx="502.7" cy="229.5" r="2.4" stroke-width="0.75" fill="none"/>
<line x1="509.5" y1="205" x2="509.5" y2="252" stroke-width="1.1"/>
<rect x="508.4" y="239" width="2.2" height="12" stroke="none" fill="#333"/>
<rect x="592" y="208" width="13" height="20.6" stroke-width="1.1" fill="none"/>
<rect x="581.5" y="229.4" width="10.5" height="19.6" stroke-width="1.5" fill="none"/>
<rect x="598" y="209.5" width="6" height="17.5" stroke-width="0.75" fill="none"/>
<rect x="579.5" y="227.6" width="26.5" height="2" stroke="none" fill="#333"/>
<line x1="559" y1="240.5" x2="579.5" y2="240.5" stroke-width="0.75"/>
<line x1="559" y1="241.5" x2="579.5" y2="241.5" stroke-width="0.75"/>
<line x1="607" y1="216.5" x2="655.4" y2="216.5" stroke-width="0.75"/>
<line x1="607" y1="218.5" x2="655.4" y2="218.5" stroke-width="0.75"/>
<rect x="652.6" y="216" width="2.8" height="2.6" stroke-width="0.75" fill="none"/>
<rect x="654.6" y="232.4" width="17.4" height="17" stroke-width="1.1" fill="none"/>
<path d="M663.5 235 h6.5 v12 h-6.5 v-3 h3 v-6 h-3 Z" stroke-width="1.1" fill="none"/>
<line x1="674.5" y1="205" x2="674.5" y2="252" stroke-width="1.1"/>
<rect x="673.6" y="239" width="2.2" height="12" stroke="none" fill="#333"/>
<rect x="675.7" y="215.8" width="6.9" height="8.4" stroke="none" fill="#333"/>
<line x1="676" y1="217.5" x2="682.3" y2="217.5" stroke-width="0.5" stroke="#aaa"/>
<line x1="676" y1="219.5" x2="682.3" y2="219.5" stroke-width="0.5" stroke="#aaa"/>
<line x1="676" y1="221.5" x2="682.3" y2="221.5" stroke-width="0.5" stroke="#aaa"/>
<circle cx="680.3" cy="229.5" r="4.7" stroke-width="1.2" fill="none"/>
<circle cx="680.3" cy="229.5" r="2.4" stroke-width="0.75" fill="none"/>
<line x1="509" y1="251" x2="676" y2="251" stroke-width="1.5"/>
<line x1="520" y1="253.5" x2="665" y2="253.5" stroke-width="0.6"/>
<line x1="505" y1="255.5" x2="679" y2="255.5" stroke-width="0.75"/>
<line x1="520" y1="264.5" x2="665" y2="264.5" stroke-width="0.7" stroke-dasharray="1.5 1.5"/>
<rect x="557.9" y="160" width="1.1" height="102" stroke="none" fill="#fff"/>
<rect x="625.5" y="160" width="1.1" height="102" stroke="none" fill="#fff"/>
<rect x="506.4" y="255.6" width="11.5" height="82.8" stroke-width="0.75" fill="none"/>
<path d="M511 255.6L506.4 260.2M515.6 255.6L506.4 264.8M517.9 257.9L506.4 269.4M517.9 262.5L506.4 274M517.9 267.1L506.4 278.6M517.9 271.7L506.4 283.2M517.9 276.3L506.4 287.8M517.9 280.9L506.4 292.4M517.9 285.5L506.4 297M517.9 290.1L506.4 301.6M517.9 294.7L506.4 306.2M517.9 299.3L506.4 310.8M517.9 303.9L506.4 315.4M517.9 308.5L506.4 320M517.9 313.1L506.4 324.6M517.9 317.7L506.4 329.2M517.9 322.3L506.4 333.8M517.9 326.9L506.4 338.4M517.9 331.5L511 338.4M517.9 336.1L515.6 338.4" stroke-width="0.8" fill="none"/>
<rect x="665.2" y="255.6" width="12.2" height="82.8" stroke-width="0.75" fill="none"/>
<path d="M672.8 255.6L677.4 260.2M668.2 255.6L677.4 264.8M665.2 257.2L677.4 269.4M665.2 261.8L677.4 274M665.2 266.4L677.4 278.6M665.2 271L677.4 283.2M665.2 275.6L677.4 287.8M665.2 280.2L677.4 292.4M665.2 284.8L677.4 297M665.2 289.4L677.4 301.6M665.2 294L677.4 306.2M665.2 298.6L677.4 310.8M665.2 303.2L677.4 315.4M665.2 307.8L677.4 320M665.2 312.4L677.4 324.6M665.2 317L677.4 329.2M665.2 321.6L677.4 333.8M665.2 326.2L677.4 338.4M665.2 330.8L672.8 338.4M665.2 335.4L668.2 338.4" stroke-width="0.8" fill="none"/>
<line x1="506.5" y1="255.6" x2="506.5" y2="392.4" stroke-width="1.1"/>
<line x1="518.5" y1="255.6" x2="518.5" y2="379.6" stroke-width="1.1"/>
<line x1="665.5" y1="255.6" x2="665.5" y2="379.6" stroke-width="1.1"/>
<line x1="677.5" y1="255.6" x2="677.5" y2="392.4" stroke-width="1.1"/>
<rect x="509" y="252" width="11" height="3.6" stroke="none" fill="#333"/>
<rect x="663" y="252" width="12" height="3.6" stroke="none" fill="#333"/>
<line x1="538.5" y1="252" x2="538.5" y2="365.5" stroke-width="0.75"/>
<line x1="581.5" y1="252" x2="581.5" y2="365.5" stroke-width="0.75"/>
<line x1="601.5" y1="252" x2="601.5" y2="365.5" stroke-width="0.75"/>
<line x1="644.5" y1="252" x2="644.5" y2="365.5" stroke-width="0.75"/>
<line x1="518.5" y1="365.5" x2="538.8" y2="365.5" stroke-width="0.75"/>
<line x1="581.8" y1="365.5" x2="601.2" y2="365.5" stroke-width="0.75"/>
<line x1="644.6" y1="365.5" x2="665.3" y2="365.5" stroke-width="0.75"/>
<circle cx="518.5" cy="365.5" r="0.8" fill="#222" stroke="none"/>
<circle cx="538.8" cy="365.5" r="0.8" fill="#222" stroke="none"/>
<circle cx="581.8" cy="365.5" r="0.8" fill="#222" stroke="none"/>
<circle cx="601.2" cy="365.5" r="0.8" fill="#222" stroke="none"/>
<circle cx="644.6" cy="365.5" r="0.8" fill="#222" stroke="none"/>
<circle cx="665.3" cy="365.5" r="0.8" fill="#222" stroke="none"/>
<text x="529" y="364.4" font-size="8.2" text-anchor="middle" textLength="14.84" lengthAdjust="spacingAndGlyphs" fill="#222">31.5</text>
<text x="591.5" y="364.4" font-size="8.2" text-anchor="middle" textLength="8.48" lengthAdjust="spacingAndGlyphs" fill="#222">31</text>
<text x="655.3" y="364.4" font-size="8.2" text-anchor="middle" textLength="14.84" lengthAdjust="spacingAndGlyphs" fill="#222">31.5</text>
<line x1="506.4" y1="379.5" x2="677.8" y2="379.5" stroke-width="0.75"/>
<path d="M518.5 379.6 l4 -1.3 v2.6 Z" stroke-width="0.3" fill="#222"/>
<path d="M665.3 379.6 l-4 -1.3 v2.6 Z" stroke-width="0.3" fill="#222"/>
<text x="512.4" y="378" font-size="8.2" text-anchor="middle" textLength="8.48" lengthAdjust="spacingAndGlyphs" fill="#222">20</text>
<text x="671.4" y="378" font-size="8.2" text-anchor="middle" textLength="8.48" lengthAdjust="spacingAndGlyphs" fill="#222">20</text>
<text x="591.6" y="377.8" font-size="8.1" text-anchor="middle" textLength="46.5" lengthAdjust="spacingAndGlyphs" fill="#333">w内法基準寸法</text>
<line x1="490.3" y1="392.5" x2="506.4" y2="392.5" stroke-width="0.75"/>
<line x1="677.8" y1="392.5" x2="693.4" y2="392.5" stroke-width="0.75"/>
<circle cx="490.3" cy="392.4" r="0.8" fill="#222" stroke="none"/>
<circle cx="506.4" cy="392.4" r="0.8" fill="#222" stroke="none"/>
<circle cx="677.8" cy="392.4" r="0.8" fill="#222" stroke="none"/>
<circle cx="693.4" cy="392.4" r="0.8" fill="#222" stroke="none"/>
<text x="498.4" y="390.8" font-size="8.2" text-anchor="middle" textLength="8.48" lengthAdjust="spacingAndGlyphs" fill="#222">25</text>
<text x="685.4" y="390.8" font-size="8.2" text-anchor="middle" textLength="8.48" lengthAdjust="spacingAndGlyphs" fill="#222">25</text>
<text x="592" y="390.6" font-size="8.2" text-anchor="middle" fill="#222">W</text>
<line x1="507" y1="393.8" x2="678" y2="393.8" stroke="#cc1c26" stroke-width="3.1" stroke-linecap="round"/>
<line x1="415.8" y1="217.5" x2="490.3" y2="217.5" stroke-width="0.75"/>
<line x1="415.8" y1="224.5" x2="484" y2="224.5" stroke-width="0.75"/>
<line x1="415.8" y1="237.5" x2="465" y2="237.5" stroke-width="0.75"/>
<line x1="415.3" y1="243.5" x2="465.3" y2="243.5" stroke-width="0.75"/>
<line x1="455.5" y1="224.9" x2="455.5" y2="236.2" stroke-width="0.75"/>
<path d="M458.2 236 L483.6 224.9 L483.6 236" stroke-width="0.75" fill="none"/>
<rect x="465.3" y="236.6" width="35.3" height="7.8" stroke="none" fill="#fff"/>
<rect x="465.3" y="236.6" width="32.2" height="7.8" stroke-width="0.6" fill="none"/>
<line x1="465.3" y1="237.5" x2="497.5" y2="237.5" stroke-width="0.6"/>
<line x1="465.3" y1="239.5" x2="497.5" y2="239.5" stroke-width="0.6"/>
<line x1="465.3" y1="240.5" x2="497.5" y2="240.5" stroke-width="0.6"/>
<line x1="465.3" y1="241.5" x2="497.5" y2="241.5" stroke-width="0.6"/>
<line x1="465.3" y1="243.5" x2="497.5" y2="243.5" stroke-width="0.6"/>
<line x1="491.5" y1="236.6" x2="491.5" y2="255" stroke-width="0.75"/>
<line x1="494.5" y1="236.6" x2="494.5" y2="255" stroke-width="0.75"/>
<line x1="497.5" y1="236.6" x2="497.5" y2="250" stroke-width="0.75"/>
<line x1="486" y1="250" x2="503" y2="250" stroke-width="1.5"/>
<rect x="502.4" y="236.4" width="2.6" height="15.6" stroke="none" fill="#333"/>
<path d="M505 243 l2 0 l0 9 l4 0" stroke-width="1.5" fill="none"/>
<text x="387.3" y="140.6" font-size="8.1" textLength="64.7" lengthAdjust="spacingAndGlyphs" fill="#333">防水テープ(別売部品)</text>
<line x1="387" y1="142.5" x2="452" y2="142.5" stroke-width="0.75"/>
<line x1="452" y1="142.4" x2="487.4" y2="234.3" stroke-width="0.75"/>
<text x="381" y="153" font-size="8.1" textLength="61" lengthAdjust="spacingAndGlyphs" fill="#333">透湿防水シート(別途)</text>
<line x1="381" y1="154.5" x2="442.5" y2="154.5" stroke-width="0.75"/>
<line x1="442.5" y1="154.4" x2="472.3" y2="234.3" stroke-width="0.75"/>
<rect x="431.4" y="243.9" width="66.9" height="65.8" stroke-width="0.75" fill="none"/>
<line x1="431.4" y1="243.9" x2="498.3" y2="309.7" stroke-width="0.75"/>
<line x1="498.3" y1="243.9" x2="431.4" y2="309.7" stroke-width="0.75"/>
<line x1="415" y1="310.5" x2="498.3" y2="310.5" stroke-width="1.1"/>
<path d="M414.5 287 q-3 8 -1 12" stroke-width="0.75" fill="none"/>
<path d="M417 243.9 Q422.93 245.4 421.85 257.9 Q417.54 297 421.39 306 Q426.78 310 429.09 303 Q427.09 257.9 425.55 247.9" stroke-width="0.75" fill="none"/>
<path d="M425.55 247.9 Q426.78 244.4 431.4 243.9" stroke-width="0.75" fill="none"/>
<line x1="415" y1="321.5" x2="506.4" y2="321.5" stroke-width="0.75"/>
<line x1="415" y1="329.5" x2="506.4" y2="329.5" stroke-width="0.75"/>
<rect x="469.3" y="310.3" width="29" height="11.5" stroke-width="0.75" fill="none"/>
<line x1="469.3" y1="321.8" x2="498.3" y2="310.3" stroke-width="0.75"/>
<line x1="503.5" y1="256" x2="503.5" y2="321.8" stroke-width="0.75"/>
<text x="412.7" y="347.2" font-size="8.1" textLength="69" lengthAdjust="spacingAndGlyphs" fill="#333">防湿気密フィルム(別途)</text>
<line x1="412.7" y1="348.5" x2="481.8" y2="348.5" stroke-width="0.75"/>
<line x1="481.8" y1="348.8" x2="496.5" y2="310.3" stroke-width="0.75"/>
<line x1="683" y1="217.5" x2="767.7" y2="217.5" stroke-width="0.75"/>
<line x1="683" y1="225.5" x2="767.7" y2="225.5" stroke-width="0.75"/>
<line x1="676" y1="236" x2="767.7" y2="236" stroke-width="1.5"/>
<line x1="718.5" y1="244.5" x2="767.7" y2="244.5" stroke-width="0.75"/>
<rect x="699.8" y="225" width="28.8" height="11" stroke-width="0.75" fill="none"/>
<line x1="699.8" y1="236" x2="728.6" y2="225" stroke-width="0.75"/>
<rect x="685.4" y="236.6" width="32.2" height="7.8" stroke-width="0.6" fill="none"/>
<line x1="685.4" y1="237.5" x2="717.6" y2="237.5" stroke-width="0.6"/>
<line x1="685.4" y1="239.5" x2="717.6" y2="239.5" stroke-width="0.6"/>
<line x1="685.4" y1="240.5" x2="717.6" y2="240.5" stroke-width="0.6"/>
<line x1="685.4" y1="241.5" x2="717.6" y2="241.5" stroke-width="0.6"/>
<line x1="685.4" y1="243.5" x2="717.6" y2="243.5" stroke-width="0.6"/>
<line x1="688.5" y1="236.6" x2="688.5" y2="255" stroke-width="0.75"/>
<line x1="691.5" y1="236.6" x2="691.5" y2="255" stroke-width="0.75"/>
<line x1="681" y1="250" x2="697" y2="250" stroke-width="1.5"/>
<rect x="679" y="236.4" width="2.6" height="15.6" stroke="none" fill="#333"/>
<path d="M688 250 l-1.5 8" stroke-width="1.5" fill="none"/>
<rect x="685.5" y="244.4" width="66" height="66.1" stroke-width="0.75" fill="none"/>
<line x1="685.5" y1="244.4" x2="751.5" y2="310.5" stroke-width="0.75"/>
<line x1="751.5" y1="244.4" x2="685.5" y2="310.5" stroke-width="0.75"/>
<path d="M768.9 287 q3 8 1 12" stroke-width="0.75" fill="none"/>
<path d="M753 244.4 Q758.93 245.9 757.85 258.4 Q753.54 297 757.39 306 Q762.78 310 765.09 303 Q763.09 258.4 761.55 248.4" stroke-width="0.75" fill="none"/>
<path d="M761.55 248.4 Q762.78 244.9 767.4 244.4" stroke-width="0.75" fill="none"/>
<line x1="685.5" y1="310.5" x2="768.5" y2="310.5" stroke-width="1.1"/>
<line x1="677.8" y1="322.5" x2="768.5" y2="322.5" stroke-width="0.75"/>
<line x1="677.8" y1="329.5" x2="768.5" y2="329.5" stroke-width="0.75"/>
<rect x="685.5" y="310.5" width="28.5" height="11.5" stroke-width="0.75" fill="none"/>
<line x1="685.5" y1="322" x2="714" y2="310.5" stroke-width="0.75"/>
<line x1="681.5" y1="256" x2="681.5" y2="322" stroke-width="0.75"/>
<line x1="680.6" y1="298.5" x2="685.5" y2="298.5" stroke-width="0.75"/>
<text x="698.3" y="192.9" font-size="8.1" textLength="46.5" lengthAdjust="spacingAndGlyphs" fill="#333">シーリング(別途)</text>
<line x1="698" y1="195.5" x2="745.2" y2="195.5" stroke-width="0.75"/>
<line x1="698" y1="195.4" x2="678" y2="215" stroke-width="0.75"/>
</svg>
</body>
</html>
